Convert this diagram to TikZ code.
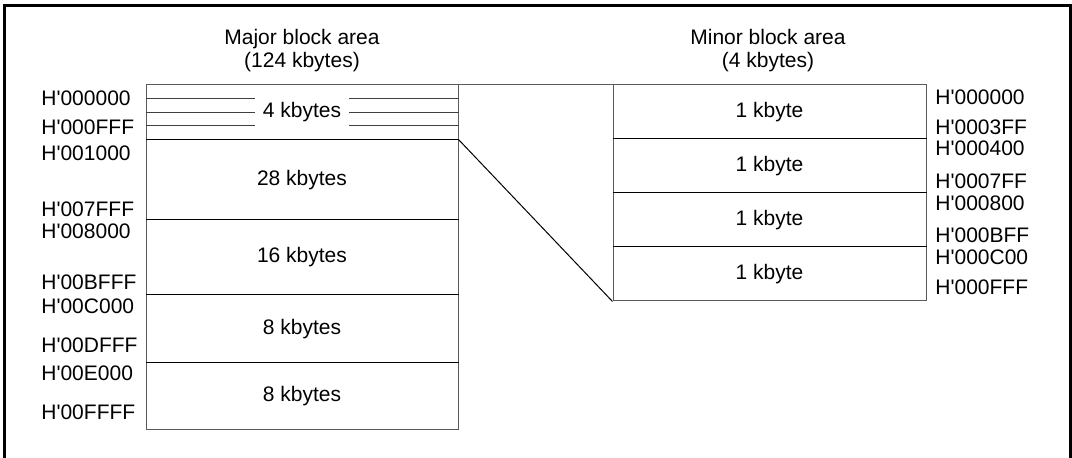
\documentclass[tikz,border=0pt]{standalone}
\usepackage{fontspec}
\setmainfont{Liberation Sans}
\usepackage{xcolor}
\usepackage{tikz}
\usetikzlibrary{positioning,calc}
\definecolor{blkgrey}{RGB}{90,90,90}
\newcommand{\hx}[1]{H\textquotesingle#1}

\begin{document}
\begin{tikzpicture}[x=0.5pt, y=-0.5pt,
    every node/.style={font=\fontsize{10.5}{11.5}\selectfont},
    seg/.style={draw=blkgrey, line width=0.5pt, inner sep=0pt},
    majseg/.style={seg, minimum width=156pt},
    minseg/.style={seg, minimum width=156.5pt, minimum height=27pt},
    sepline/.style={line width=0.9pt, black},
    strip/.style={line width=0.5pt, black!75},
    edge/.style={line width=0.5pt, black},
    addr/.style={anchor=west, inner sep=0pt},
    title/.style={align=center, inner sep=0pt}]
    \useasboundingbox (0,0) rectangle (1072,458);
    % Frame (open at the bottom)
    \draw[line width=1.5pt] (4,458) -- (4,6) -- (1070,6) -- (1070,458);

    % Titles
    \node[title] (majtitle) at (302,51) {Major block area\\(124 kbytes)};
    \node[title] (mintitle) at (768,51) {Minor block area\\(4 kbytes)};

    % Major block area
    \node[majseg, minimum height=27.5pt] (m4) at (302,112.5) {};
    \node[majseg, minimum height=40pt] (m28) at (302,180) {28 kbytes};
    \node[majseg, minimum height=37.5pt] (m16) at (302,257.5) {16 kbytes};
    \node[majseg, minimum height=34pt] (m8a) at (302,329) {8 kbytes};
    \node[majseg, minimum height=33.5pt] (m8b) at (302,396.5) {8 kbytes};

    % 4 kbytes strip
    \foreach \dy in {-13.5,0,13.5}
        \draw[strip] ($(m4.west)+(0,\dy)$) -- ($(m4.east)+(0,\dy)$);
    \node[fill=white, inner xsep=4pt, inner ysep=0pt, minimum height=16pt] (m4t) at (m4) {4 kbytes};

    % Minor block area
    \node[minseg] (n1) at (769.5,112) {1 kbyte};
    \node[minseg] (n2) at (769.5,166) {1 kbyte};
    \node[minseg] (n3) at (769.5,220) {1 kbyte};
    \node[minseg] (n4) at (769.5,274) {1 kbyte};

    % Separators
    \foreach \s in {m28,m16,m8a,m8b,n2,n3,n4}
        \draw[sepline] (\s.north west) -- (\s.north east);

    % Connectors
    \draw[edge, draw=blkgrey] (m4.north east) -- (n1.north west);
    \draw[edge] (m28.north east) -- (n4.south west);

    % Addresses, major block
    \node[addr] (a1) at (41,98) {\hx{000000}};
    \node[addr] (a2) at (41,127) {\hx{000FFF}};
    \node[addr] (a3) at (41,153) {\hx{001000}};
    \node[addr] (a4) at (41,209) {\hx{007FFF}};
    \node[addr] (a5) at (41,231) {\hx{008000}};
    \node[addr] (a6) at (41,282) {\hx{00BFFF}};
    \node[addr] (a7) at (41,306) {\hx{00C000}};
    \node[addr] (a8) at (41,345) {\hx{00DFFF}};
    \node[addr] (a9) at (41,373) {\hx{00E000}};
    \node[addr] (a10) at (41,412) {\hx{00FFFF}};

    % Addresses, minor block
    \node[addr] (b1) at (935,97) {\hx{000000}};
    \node[addr] (b2) at (935,127) {\hx{0003FF}};
    \node[addr] (b3) at (935,148) {\hx{000400}};
    \node[addr] (b4) at (935,181) {\hx{0007FF}};
    \node[addr] (b5) at (935,203) {\hx{000800}};
    \node[addr] (b6) at (935,235) {\hx{000BFF}};
    \node[addr] (b7) at (935,257) {\hx{000C00}};
    \node[addr] (b8) at (935,287) {\hx{000FFF}};
\end{tikzpicture}
\end{document}
